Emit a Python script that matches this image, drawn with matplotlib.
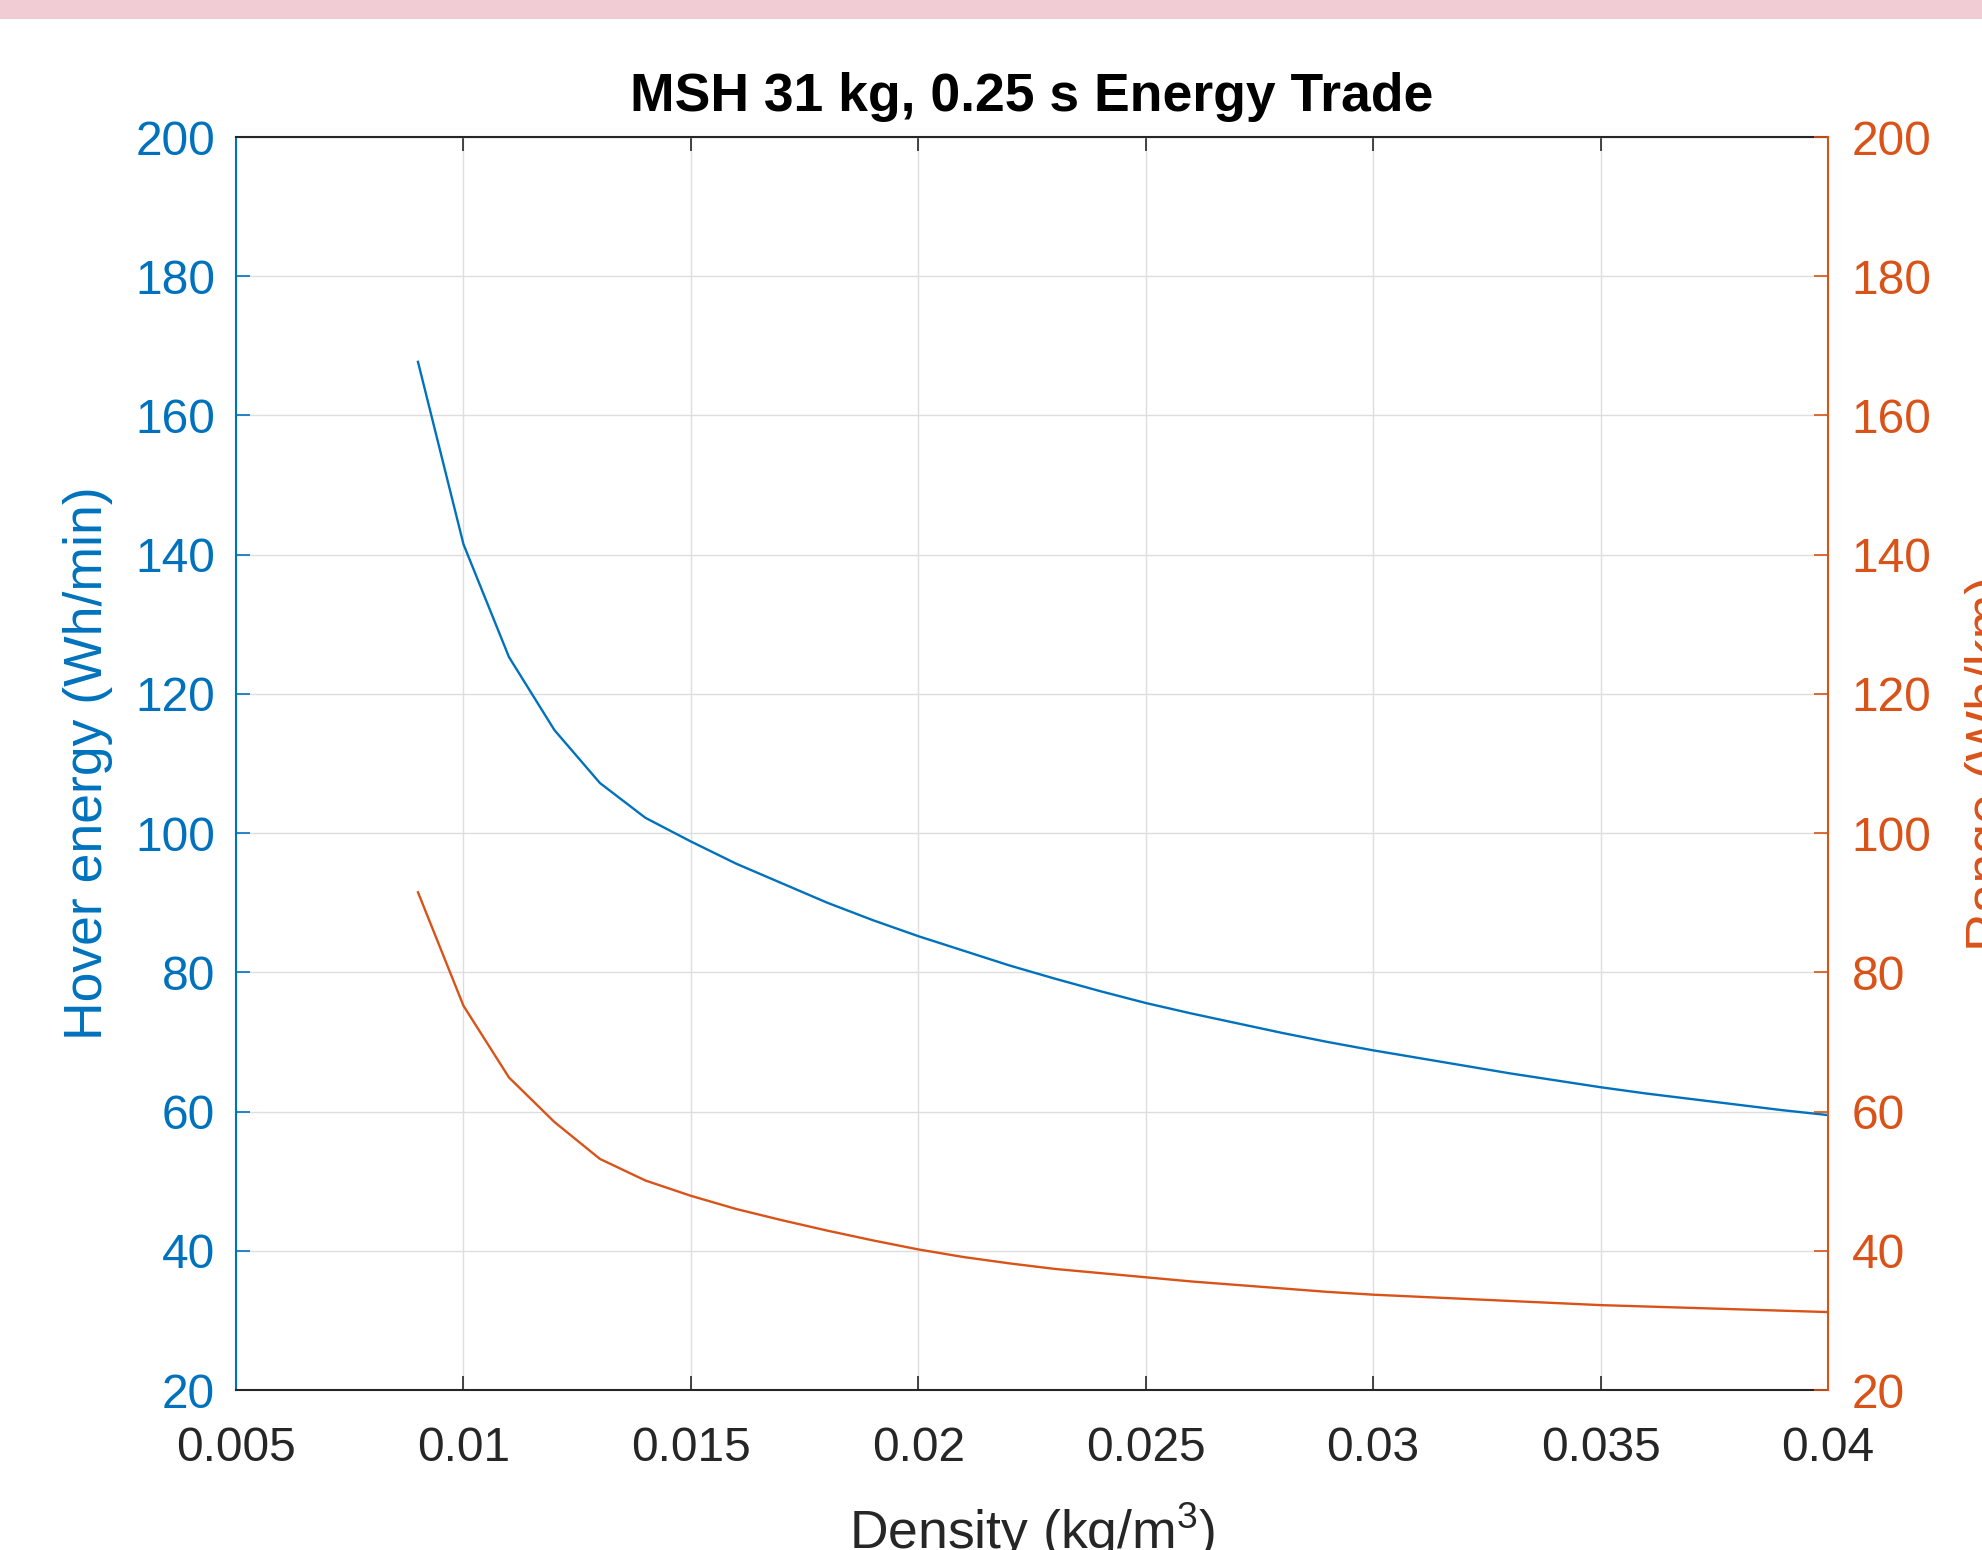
import matplotlib.pyplot as plt
from matplotlib.patches import Rectangle

plt.rcParams['font.family'] = ['Liberation Sans', 'DejaVu Sans']
plt.rcParams['mathtext.fontset'] = 'custom'
plt.rcParams['mathtext.rm'] = 'Liberation Sans'

# density (kg/m^3)
density = [0.009, 0.010, 0.011, 0.012, 0.013, 0.014, 0.015, 0.016,
           0.017, 0.018, 0.019, 0.020, 0.021, 0.022, 0.023, 0.024,
           0.025, 0.026, 0.027, 0.028, 0.029, 0.030, 0.031, 0.032,
           0.033, 0.034, 0.035, 0.036, 0.037, 0.038, 0.039, 0.040]

# hover energy (Wh/min), left axis
hover_energy = [167.7, 141.5, 125.3, 114.8, 107.2, 102.2, 98.8, 95.6,
                92.8, 90.0, 87.5, 85.2, 83.1, 81.0, 79.1, 77.3,
                75.6, 74.1, 72.7, 71.3, 70.0, 68.8, 67.7, 66.6,
                65.5, 64.5, 63.5, 62.6, 61.8, 61.0, 60.2, 59.5]

# range energy (Wh/km), right axis
range_energy = [91.5, 75.2, 64.9, 58.5, 53.2, 50.1, 47.9, 46.0,
                44.4, 42.9, 41.5, 40.2, 39.1, 38.2, 37.4, 36.8,
                36.2, 35.6, 35.1, 34.6, 34.1, 33.7, 33.4, 33.1,
                32.8, 32.5, 32.2, 32.0, 31.8, 31.6, 31.4, 31.2]

x_ticks = [0.005, 0.01, 0.015, 0.02, 0.025, 0.03, 0.035, 0.04]
x_tick_labels = ['0.005', '0.01', '0.015', '0.02', '0.025', '0.03', '0.035', '0.04']
y_ticks = [20, 40, 60, 80, 100, 120, 140, 160, 180, 200]

blue = '#0072BD'
orange = '#D95319'
dark = '#262626'

fig = plt.figure(figsize=(19.82, 15.5), dpi=100)

# pink strip along the top edge
fig.add_artist(Rectangle((0, 1 - 19 / 1550), 1, 19 / 1550, transform=fig.transFigure,
                         facecolor='#f2ccd4', edgecolor='none', zorder=0))

ax1 = fig.add_axes([0.1191, 0.1032, 0.8032, 0.8084])
ax1.plot(density, hover_energy, color=blue, linewidth=1.7)
ax1.set_xlim(0.005, 0.04)
ax1.set_ylim(20, 200)
ax1.set_xticks(x_ticks)
ax1.set_xticklabels(x_tick_labels)
ax1.set_yticks(y_ticks)
ax1.grid(True, color='#dedede', linewidth=1.0)
ax1.set_axisbelow(True)

ax1.tick_params(axis='x', direction='in', top=True, length=10, width=1.2,
                colors=dark, labelsize=34.5, pad=26)
ax1.tick_params(axis='y', direction='in', length=10, width=1.2,
                colors=blue, labelsize=34.5, pad=15)
ax1.spines['left'].set_color(blue)
ax1.spines['right'].set_visible(False)
for s in ['top', 'bottom']:
    ax1.spines[s].set_color(dark)
for s in ax1.spines.values():
    s.set_linewidth(1.5)

ax1.set_ylabel('Hover energy (Wh/min)', color=blue, fontsize=38.5)
ax1.yaxis.set_label_coords(-0.0773, 0.5)
ax1.set_xlabel('Density (kg/m$^3$)', color=dark, fontsize=38.5, va='baseline')
ax1.xaxis.set_label_coords(0.5, -0.127)
ax1.set_title('MSH 31 kg, 0.25 s Energy Trade', fontsize=38.5,
              fontweight='bold', color='black', pad=18.5)

# second axis for range energy
ax2 = ax1.twinx()
ax2.plot(density, range_energy, color=orange, linewidth=1.7)
ax2.set_ylim(20, 200)
ax2.set_yticks(y_ticks)
ax2.tick_params(axis='y', direction='in', length=10, width=1.2,
                colors=orange, labelsize=34.5, pad=17)
for s in ['left', 'top', 'bottom']:
    ax2.spines[s].set_visible(False)
ax2.spines['right'].set_color(orange)
ax2.spines['right'].set_linewidth(1.5)
ax2.set_ylabel('Range (Wh/km)', color=orange, fontsize=38.5)
ax2.yaxis.set_label_coords(1.0861, 0.5)

fig.savefig('out.png', dpi=100)
